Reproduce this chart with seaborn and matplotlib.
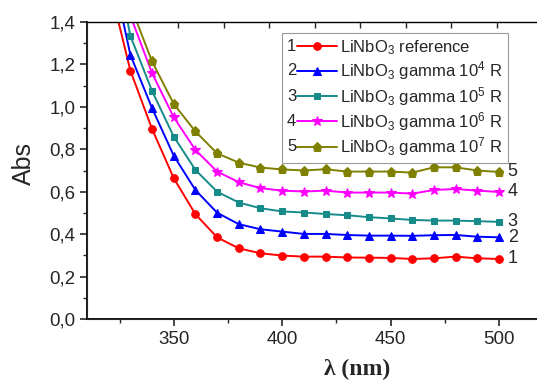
import numpy as np
import pandas as pd
import matplotlib
matplotlib.use("Agg")
import matplotlib.pyplot as plt
import seaborn as sns
from matplotlib.ticker import MultipleLocator, FuncFormatter
from matplotlib.legend_handler import HandlerLine2D
from matplotlib.text import Text

# wavelength (nm)
wavelength = [320, 330, 340, 350, 360, 370, 380, 390, 400, 410, 420, 430,
              440, 450, 460, 470, 480, 490, 500]

abs_ref = [1.59, 1.171, 0.896, 0.664, 0.494, 0.385, 0.333, 0.310, 0.299, 0.294,
           0.294, 0.290, 0.289, 0.288, 0.283, 0.286, 0.294, 0.286, 0.283]
abs_g4 = [1.72, 1.245, 0.994, 0.770, 0.608, 0.501, 0.447, 0.423, 0.412, 0.401,
          0.401, 0.396, 0.393, 0.393, 0.392, 0.395, 0.396, 0.388, 0.385]
abs_g5 = [1.85, 1.335, 1.075, 0.860, 0.703, 0.600, 0.549, 0.522, 0.507, 0.502,
          0.495, 0.489, 0.480, 0.474, 0.467, 0.464, 0.464, 0.461, 0.458]
abs_g6 = [2.00, 1.430, 1.159, 0.951, 0.797, 0.695, 0.645, 0.617, 0.605, 0.601,
          0.605, 0.596, 0.596, 0.596, 0.591, 0.608, 0.613, 0.605, 0.599]
abs_g7 = [2.15, 1.480, 1.214, 1.014, 0.884, 0.781, 0.737, 0.714, 0.705, 0.700,
          0.706, 0.695, 0.695, 0.695, 0.690, 0.715, 0.715, 0.700, 0.693]

series_labels = ["LiNbO$_3$ reference",
                 "LiNbO$_3$ gamma 10$^4$ R",
                 "LiNbO$_3$ gamma 10$^5$ R",
                 "LiNbO$_3$ gamma 10$^6$ R",
                 "LiNbO$_3$ gamma 10$^7$ R"]
series_numbers = ["1", "2", "3", "4", "5"]
series_values = [abs_ref, abs_g4, abs_g5, abs_g6, abs_g7]
colors = ["#ff0000", "#0000ff", "#178a8a", "#ff00ff", "#808000"]
markers = ["o", "^", "s", "*", "p"]
marker_sizes = [5.5, 6, 5, 7.5, 6.5]

yticks = [0.0, 0.2, 0.4, 0.6, 0.8, 1.0, 1.2, 1.4]
xticks = [350, 400, 450, 500]
top_ticks = [352, 373, 394, 415, 436, 457, 478, 499]

sns.set_style("ticks")
plt.rcParams["font.family"] = ["Liberation Sans", "DejaVu Sans"]
plt.rcParams["mathtext.default"] = "regular"


class NumberedHandler(HandlerLine2D):
    # draws "1—●—" style handle like Origin
    def __init__(self, num, **kw):
        super().__init__(**kw)
        self.num = num

    def create_artists(self, legend, orig_handle, xdescent, ydescent,
                       width, height, fontsize, trans):
        off = 0.6 * fontsize
        artists = super().create_artists(legend, orig_handle, xdescent - off,
                                         ydescent, width - off, height,
                                         fontsize, trans)
        t = Text(-xdescent, (height - ydescent) / 2, self.num, fontsize=fontsize,
                 ha="left", va="center", transform=trans)
        return artists + [t]


fig = plt.figure(figsize=(5.37, 3.81), dpi=100)
ax = fig.add_axes([87 / 537, 62 / 381, 477 / 537, 297 / 381])

for vals, lab, c, m, ms in zip(series_values, series_labels, colors, markers, marker_sizes):
    df = pd.DataFrame({"wl": wavelength, "abs": vals})
    sns.lineplot(data=df, x="wl", y="abs", ax=ax, color=c, marker=m,
                 markersize=ms, markeredgecolor=c, linewidth=1.4, label=lab,
                 legend=False)

for vals, num in zip(series_values, series_numbers):
    ax.text(504, vals[-1], num, fontsize=13, ha="left", va="center")

ax.set_xlim(310, 530)
ax.set_ylim(0, 1.4)
ax.set_xticks(xticks)
ax.set_yticks(yticks)
ax.xaxis.set_minor_locator(MultipleLocator(25))
ax.yaxis.set_minor_locator(MultipleLocator(0.1))
ax.yaxis.set_major_formatter(FuncFormatter(lambda v, _: f"{v:.1f}".replace(".", ",")))
ax.tick_params(which="major", direction="out", length=5, width=1.2, labelsize=13.5)
ax.tick_params(which="minor", direction="out", length=3, width=1.0)
for s in ax.spines.values():
    s.set_linewidth(1.3)
    s.set_color("black")
ax.spines["top"].set_linewidth(1.0)

ax.set_ylabel("Abs", fontsize=18)
ax.yaxis.set_label_coords(-0.108, 0.525)
ax.set_xlabel("λ (nm)", fontsize=17, fontweight="bold", family="Liberation Serif")
ax.xaxis.set_label_coords(0.566, -0.135)

top = ax.twiny()
top.set_xlim(ax.get_xlim())
top.set_xticks(top_ticks)
top.tick_params(direction="in", length=4, width=1.0, labeltop=False)
top.spines["top"].set_visible(False)

lines = ax.get_lines()[:5]
hmap = {ln: NumberedHandler(n) for ln, n in zip(lines, series_numbers)}
leg = ax.legend(lines, series_labels, handler_map=hmap, loc="upper left",
                bbox_to_anchor=((282 - 87) / 477, (319 - 33) / 297),
                fontsize=12, handlelength=3.0, handletextpad=0.2,
                labelspacing=0.15, borderpad=0.3, borderaxespad=0,
                frameon=True, fancybox=False, framealpha=1)
leg.get_frame().set_edgecolor("#999999")
leg.get_frame().set_linewidth(0.8)
leg.set_zorder(10)

fig.savefig("out.png", dpi=100)
